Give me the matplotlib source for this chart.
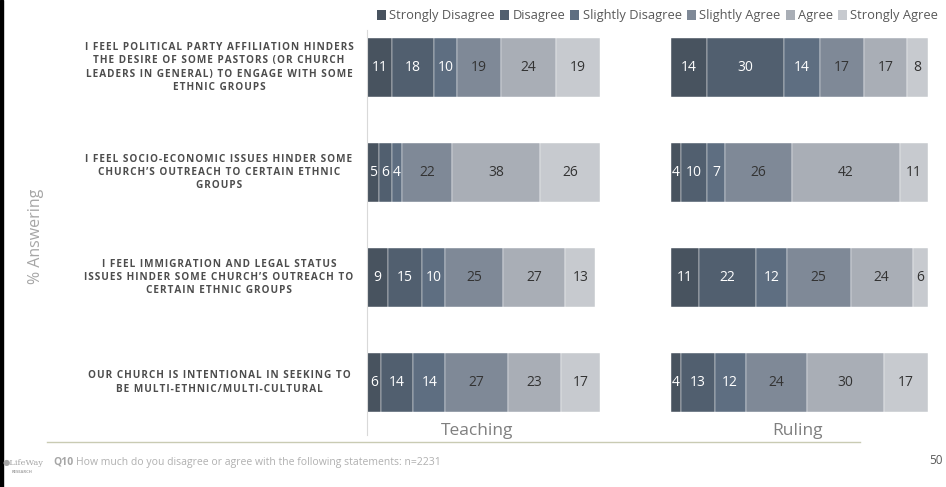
import matplotlib
matplotlib.use("Agg")
import matplotlib.pyplot as plt
from matplotlib.patches import Patch, Rectangle

plt.rcParams['font.family'] = ['Open Sans', 'DejaVu Sans']

# data
statements = [
    "I FEEL POLITICAL PARTY AFFILIATION HINDERS\nTHE DESIRE OF SOME PASTORS (OR CHURCH\nLEADERS IN GENERAL) TO ENGAGE WITH SOME\nETHNIC GROUPS",
    "I FEEL SOCIO-ECONOMIC ISSUES HINDER SOME\nCHURCH\u2019S OUTREACH TO CERTAIN ETHNIC\nGROUPS",
    "I FEEL IMMIGRATION AND LEGAL STATUS\nISSUES HINDER SOME CHURCH\u2019S OUTREACH TO\nCERTAIN ETHNIC GROUPS",
    "OUR CHURCH IS INTENTIONAL IN SEEKING TO\nBE MULTI-ETHNIC/MULTI-CULTURAL",
]
responses = ["Strongly Disagree", "Disagree", "Slightly Disagree",
             "Slightly Agree", "Agree", "Strongly Agree"]
teaching = [
    [11, 18, 10, 19, 24, 19],
    [5, 6, 4, 22, 38, 26],
    [9, 15, 10, 25, 27, 13],
    [6, 14, 14, 27, 23, 17],
]
ruling = [
    [14, 30, 14, 17, 17, 8],
    [4, 10, 7, 26, 42, 11],
    [11, 22, 12, 25, 24, 6],
    [4, 13, 12, 24, 30, 17],
]
colors = ["#48535f", "#515f6f", "#5e6e81", "#7f8997", "#a9aeb6", "#c7cacf"]
text_colors = ["white", "white", "white", "#333333", "#333333", "#333333"]

W, H = 946, 487
fig = plt.figure(figsize=(W / 100, H / 100), dpi=100)


def px_axes(x0, y0, x1, y1):
    return fig.add_axes([x0 / W, 1 - y1 / H, (x1 - x0) / W, (y1 - y0) / H])


def draw(ax, data, xmax):
    for i, row in enumerate(data):
        left = 0
        for j, v in enumerate(row):
            ax.barh(i, v, left=left, height=0.56, color=colors[j],
                    edgecolor="white", linewidth=0.3)
            ax.text(left + v / 2, i, str(v), ha="center", va="center",
                    fontsize=10, color=text_colors[j])
            left += v
    ax.set_xlim(0, xmax)
    ax.set_ylim(3.5, -0.357)
    ax.set_xticks([])
    ax.set_yticks([])
    for s in ["top", "right", "bottom"]:
        ax.spines[s].set_visible(False)


ax1 = px_axes(367, 30, 600, 435)
draw(ax1, teaching, 101)
ax1.spines["left"].set_color("#d9d9d9")
ax2 = px_axes(671, 30, 928, 435)
draw(ax2, ruling, 100)
ax2.spines["left"].set_visible(False)


def tracked(s):
    # widen letter spacing with hair spaces
    return "\n".join("\u200a".join(line) for line in s.split("\n"))


# statement labels
for i, s in enumerate(statements):
    fig.text(219 / W, 1 - (67.5 + i * 105) / H, tracked(s), ha="center",
             va="center", multialignment="center", fontsize=7.2,
             fontweight="bold", color="#4d4d4d", linespacing=1.3,
             family=["Open Sans", "DejaVu Sans"])

fig.text(477 / W, 1 - 431 / H, "Teaching", ha="center", va="center",
         fontsize=12.5, color="#7f7f7f")
fig.text(797 / W, 1 - 431 / H, "Ruling", ha="center", va="center",
         fontsize=12.5, color="#7f7f7f")
fig.text(36 / W, 1 - 236 / H, "% Answering", ha="center", va="center",
         rotation=90, fontsize=11.5, color="#a6a6a6")

# legend
handles = [Patch(facecolor=c, label=r) for c, r in zip(colors, responses)]
fig.legend(handles=handles, loc="center right", bbox_to_anchor=(1.004, 1 - 16 / H),
           ncol=6, frameon=False, fontsize=9.3, handlelength=0.7,
           handleheight=0.7, handletextpad=0.25, columnspacing=0.4,
           labelcolor="#595959")

# footer
fig.add_artist(plt.Line2D([47 / W, 860 / W], [1 - 442 / H] * 2,
                          color="#c9cbb3", linewidth=1))
fig.text(53 / W, 1 - 462 / H, "Q10", fontsize=7.5, fontweight="bold",
         color="#a6a6a6", va="center")
fig.text(76 / W, 1 - 462 / H,
         "How much do you disagree or agree with the following statements: n=2231",
         fontsize=7.5, color="#b0b0b0", va="center")
fig.text(943 / W, 1 - 460 / H, "50", fontsize=8.5, color="#595959",
         ha="right", va="center")
fig.text(3 / W, 1 - 463 / H, "\u25cfLifeWay", fontsize=6, color="#a6a6a6",
         va="center", family="DejaVu Serif")
fig.text(12 / W, 1 - 472 / H, "RESEARCH", fontsize=3, color="#a6a6a6",
         va="center", fontweight="bold")
fig.add_artist(Rectangle((0, 0), 3 / W, 1, transform=fig.transFigure,
                         color="black"))

fig.savefig("out.png", dpi=100)
